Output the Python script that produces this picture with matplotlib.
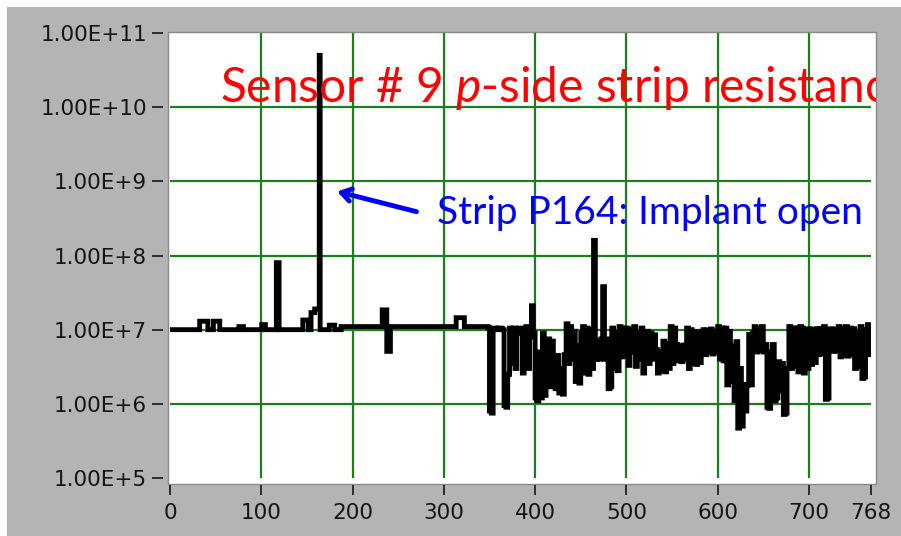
import matplotlib
matplotlib.use("Agg")
import matplotlib.pyplot as plt
from matplotlib.patches import Rectangle
from matplotlib.ticker import NullLocator
import numpy as np

#-------------------------------------------------------------------------------
# data: strip resistance in MOhm
#-------------------------------------------------------------------------------

# flat part of the scan: (first strip, last strip + 1, value in MOhm)
flat_segments = [
    (0, 33, 10.0),
    (33, 42, 13.0),
    (42, 48, 10.0),
    (48, 55, 13.0),
    (55, 76, 10.0),
    (76, 81, 11.0),
    (81, 101, 10.0),
    (101, 105, 11.7),
    (105, 117, 10.0),
    (117, 120, 80.0),
    (120, 146, 10.0),
    (146, 152, 13.5),
    (152, 155, 10.0),
    (155, 159, 17.0),
    (159, 164, 19.0),
    (164, 165, 50000.0),
    (165, 175, 10.0),
    (175, 181, 11.5),
    (181, 188, 10.0),
    (188, 233, 11.0),
    (233, 238, 18.5),
    (238, 242, 5.1),
    (242, 314, 11.0),
    (314, 323, 14.5),
    (323, 349, 11.0),
]

# noisy part of the scan, every second strip from 349 on
noisy_first = 349
noisy_step = 2
noisy_mohm = [
    10.5, 0.8, 0.75, 10.5,            # 349-355
    10.5, 10, 10.5, 10.5, 10,         # 357-365
    0.95, 0.9, 2.5, 10.5,             # 367-373
    3.5, 10.5, 3, 9, 10.5,            # 375-383
    10.5, 2.6, 6, 11, 3, 8,           # 385-395
    21, 9,                            # 397-399
    1.2, 1.1, 5, 1.2, 9, 1.3, 2, 7.5, # 401-415
    1.7, 7, 2.5, 1.6,                 # 417-423
    4.5, 1.4, 3, 1.35, 4.6,           # 425-433
    12, 3.5, 11, 4,                   # 435-441
    9.5, 2, 6, 1.9, 9,                # 443-451
    11, 2.6, 10.5, 2.5, 10,           # 453-461
    3, 160, 4, 7,                     # 463-469
    4, 7.5, 38, 4,                    # 471-477
    7.5, 1.6, 1.7,                    # 479-483
    10.5, 3, 9, 2.8,                  # 485-491
    11, 4.3, 10.5, 4.5,               # 493-499
    10.5, 3.3, 10, 5, 11, 3.2, 9, 4, 10.5,  # 501-517
    2.6, 9.5,                         # 519-521
    9.5, 3.5, 9, 4, 8.5,              # 523-531
    5.4, 2.6, 5, 2.8,                 # 533-539
    7, 2.7, 6.5, 3,                   # 541-547
    11, 3.5, 10.5,                    # 549-553
    6.3, 3.8, 6, 3.7, 6.2, 4,         # 555-565
    10.5, 3, 10, 3.5,                 # 567-573
    9.4, 3.4, 9, 3.6, 9.5,            # 575-583
    10, 4.6, 9.8, 5, 10.2, 4.7, 9.5, 5,  # 585-599
    11, 4, 10.5, 3.8, 10.5,           # 601-609
    1.8, 9.5, 2, 6,                   # 611-617
    1.1, 6.9,                         # 619-621
    0.47, 3, 0.5,                     # 623-627
    1.8, 0.8, 1.8,                    # 629-633
    8.6, 1.8, 9,                      # 635-639
    11, 5, 10.5, 5.2, 11, 5,          # 641-651
    6.3, 0.9, 0.87, 5,                # 653-659
    6.3, 1.1, 1.2,                    # 661-665
    3.7, 1.5, 3.5,                    # 667-671
    0.72, 0.75, 3,                    # 673-677
    11, 3, 10.5, 3.2,                 # 679-685
    10.5, 2.7, 11,                    # 687-691
    10.5, 2.6, 10, 3,                 # 693-699
    10.3, 3.4, 10, 3.6, 10.3,         # 701-709
    4.6, 10.3, 4.8,                   # 711-715
    11, 1.15, 1.2, 10,                # 717-723
    10.3, 5.1, 10, 5.2,               # 725-731
    11, 4.3, 10.5, 4.5, 11, 4.4, 10.5, 4.6,  # 733-747
    10.3, 3, 9.5, 3.2,                # 749-755
    11, 2.2, 2.3, 10,                 # 757-763
    11.7, 4.6,                        # 765-767
]

x_ticks = [0, 100, 200, 300, 400, 500, 600, 700, 768]
y_ticks = [1e5, 1e6, 1e7, 1e8, 1e9, 1e10, 1e11]
y_labels = ['1.00E+5', '1.00E+6', '1.00E+7', '1.00E+8', '1.00E+9', '1.00E+10', '1.00E+11']

strips = []
values = []
for start, stop, val in flat_segments:
    for s in range(start, stop):
        strips.append(s)
        values.append(val)
noisy_strips = noisy_first + noisy_step * np.arange(len(noisy_mohm))
strips = np.concatenate([strips, noisy_strips])
ohms = np.concatenate([values, noisy_mohm]) * 1e6

#-------------------------------------------------------------------------------
# figure
#-------------------------------------------------------------------------------

W, H = 901, 536
plt.rcParams['mathtext.fontset'] = 'custom'
plt.rcParams['mathtext.rm'] = 'Lato'
plt.rcParams['mathtext.it'] = 'Lato:italic'

fig = plt.figure(figsize=(W / 100, H / 100), dpi=100, facecolor='white')

fig.add_artist(Rectangle((7 / W, 0), 1, (H - 7) / H, transform=fig.transFigure,
                         facecolor='#b4b4b4', edgecolor='none', zorder=0))
plot_bg = Rectangle((168 / W, 1 - 484 / H), (876 - 168) / W, (484 - 32) / H,
                    transform=fig.transFigure, facecolor='white',
                    edgecolor='#8a8a8a', lw=1, zorder=0.5)
fig.add_artist(plot_bg)

ax = fig.add_axes([170 / W, 1 - 478 / H, (871 - 170) / W, (478 - 33) / H])
ax.set_zorder(2)
ax.set_facecolor('none')
ax.set_yscale('log')
ax.set_xlim(0, 768)
ax.set_ylim(1e5, 1e11)

ax.plot(strips, ohms, color='black', lw=3.5, drawstyle='steps-mid',
        solid_joinstyle='miter', zorder=3)

ax.set_xticks(x_ticks)
ax.set_xticklabels([str(t) for t in x_ticks])
ax.set_yticks(y_ticks)
ax.set_yticklabels(y_labels)
ax.yaxis.set_minor_locator(NullLocator())

for side in ['left', 'right', 'top', 'bottom']:
    ax.spines[side].set_visible(False)
ax.spines['left'].set_position(('outward', 5))
ax.spines['bottom'].set_position(('outward', 5))

ax.tick_params(axis='y', direction='out', length=8, width=1.2, pad=3.5,
               colors='#151515', labelsize=15.5)
ax.tick_params(axis='x', direction='out', length=7, width=1.2, pad=6,
               colors='#151515', labelsize=15.5)

ax.set_axisbelow(True)
ax.grid(True, color='#1e7d1e', lw=1.6)
xg = ax.get_xgridlines()
xg[0].set_visible(False)
xg[-1].set_visible(False)
yg = ax.get_ygridlines()
yg[0].set_visible(False)
yg[-1].set_visible(False)

#-------------------------------------------------------------------------------
# annotations
#-------------------------------------------------------------------------------

# the title runs past the plot frame and is cut there, as in the original
title = ax.text(55, 1.17e10, r'Sensor # 9 $p$-side strip resistance',
                color='red', fontsize=34.5, family='Lato', ha='left',
                va='baseline', zorder=4)
title.set_clip_path(plot_bg)
title.set_clip_on(True)

ax.text(292, 2.7e8, 'Strip P164: Implant open', color='blue', fontsize=28,
        family='Lato', ha='left', va='baseline', zorder=4)
ax.annotate('', xy=(183, 7.3e8), xytext=(270, 3.9e8),
            arrowprops=dict(arrowstyle='->, head_length=0.7, head_width=0.45',
                            color='blue', lw=3.5, shrinkA=0, shrinkB=0),
            zorder=4)

fig.savefig('out.png', dpi=100, facecolor=fig.get_facecolor())
